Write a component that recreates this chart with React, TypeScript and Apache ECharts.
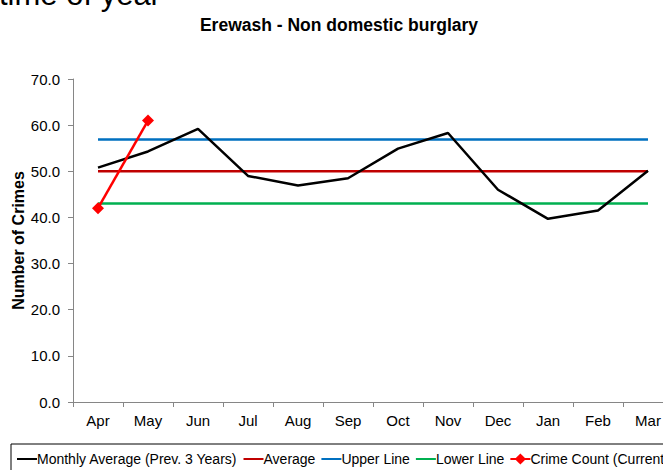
import React, { useEffect, useRef } from "react";
import * as echarts from "echarts";

const months = ["Apr", "May", "Jun", "Jul", "Aug", "Sep", "Oct", "Nov", "Dec", "Jan", "Feb", "Mar"];
const monthlyAverage = [50.8, 54.3, 59.2, 49.0, 46.9, 48.5, 54.9, 58.3, 46.0, 39.7, 41.5, 50.1];
const averageLine = [50.0, 50.0, 50.0, 50.0, 50.0, 50.0, 50.0, 50.0, 50.0, 50.0, 50.0, 50.0];
const upperLine = [56.9, 56.9, 56.9, 56.9, 56.9, 56.9, 56.9, 56.9, 56.9, 56.9, 56.9, 56.9];
const lowerLine = [43.0, 43.0, 43.0, 43.0, 43.0, 43.0, 43.0, 43.0, 43.0, 43.0, 43.0, 43.0];
const crimeCount: (number | null)[] = [42.0, 61.0, null, null, null, null, null, null, null, null, null, null];

const FONT = "'Liberation Sans', Arial, sans-serif";
const noMarker = { opacity: 0, color: "rgba(0,0,0,0)", borderWidth: 0 };

export default function App() {
  const ref = useRef<HTMLDivElement>(null);
  useEffect(() => {
    if (!ref.current) return;
    const chart = echarts.init(ref.current, undefined, { renderer: "svg" });
    chart.setOption({
      animation: false,
      backgroundColor: "#ffffff",
      textStyle: { fontFamily: FONT },
      title: {
        text: "Erewash - Non domestic burglary",
        left: 334,
        textAlign: "center",
        top: 11,
        textStyle: { fontFamily: FONT, fontSize: 17.5, fontWeight: "bold", color: "#000" },
      },
      graphic: [
        {
          type: "text",
          x: -1,
          y: -6,
          style: {
            text: "time of year",
            fontSize: 31,
            fontFamily: FONT,
            fill: "#000",
            align: "left",
            verticalAlign: "middle",
          },
        },
      ],
      grid: { left: 73, top: 79, width: 600, height: 323, outerBoundsMode: "none", containLabel: false },
      legend: {
        left: 11,
        top: 444,
        orient: "horizontal",
        borderColor: "#000",
        borderWidth: 1,
        padding: [8, 5, 8, 5],
        itemWidth: 20,
        itemHeight: 14,
        itemGap: 5,
        textStyle: { fontFamily: FONT, fontSize: 14, color: "#000", padding: [0, 0, 0, -5] },
        data: [
          { name: "Monthly Average (Prev. 3 Years)", itemStyle: noMarker },
          { name: "Average", itemStyle: noMarker },
          { name: "Upper Line", itemStyle: noMarker },
          { name: "Lower Line", itemStyle: noMarker },
          { name: "Crime Count (Current Year)" },
        ],
      },
      xAxis: {
        type: "category",
        data: months,
        boundaryGap: true,
        axisLine: { lineStyle: { color: "#868686", width: 1 } },
        axisTick: { show: true, length: 5, alignWithLabel: false, lineStyle: { color: "#868686" } },
        axisLabel: { fontFamily: FONT, fontSize: 15, color: "#000", margin: 11 },
        splitLine: { show: false },
      },
      yAxis: {
        type: "value",
        min: 0,
        max: 70,
        interval: 10,
        name: "Number of Crimes",
        nameLocation: "middle",
        nameGap: 47,
        nameMoveOverlap: false,
        nameTextStyle: { fontFamily: FONT, fontSize: 16, fontWeight: "bold", color: "#000" },
        axisLine: { show: true, lineStyle: { color: "#868686", width: 1 } },
        axisTick: { show: true, length: 5, lineStyle: { color: "#868686" } },
        axisLabel: {
          fontFamily: FONT,
          fontSize: 15,
          color: "#000",
          margin: 13,
          formatter: (v: number) => v.toFixed(1),
        },
        splitLine: { show: false },
      },
      series: [
        {
          name: "Monthly Average (Prev. 3 Years)",
          type: "line",
          data: monthlyAverage,
          symbol: "none",
          lineStyle: { color: "#000000", width: 2.5 },
          itemStyle: { color: "#000000" },
          z: 5,
        },
        {
          name: "Average",
          type: "line",
          data: averageLine,
          symbol: "none",
          lineStyle: { color: "#C00000", width: 2.5 },
          itemStyle: { color: "#C00000" },
          z: 3,
        },
        {
          name: "Upper Line",
          type: "line",
          data: upperLine,
          symbol: "none",
          lineStyle: { color: "#0070C0", width: 2.5 },
          itemStyle: { color: "#0070C0" },
          z: 3,
        },
        {
          name: "Lower Line",
          type: "line",
          data: lowerLine,
          symbol: "none",
          lineStyle: { color: "#00B050", width: 2.5 },
          itemStyle: { color: "#00B050" },
          z: 3,
        },
        {
          name: "Crime Count (Current Year)",
          type: "line",
          data: crimeCount,
          symbol: "diamond",
          symbolSize: 12,
          showSymbol: true,
          lineStyle: { color: "#FF0000", width: 2.5 },
          itemStyle: { color: "#FF0000" },
          z: 6,
        },
      ],
    });
    return () => chart.dispose();
  }, []);
  return (
    <div
      style={{
        position: "fixed",
        left: 0,
        top: 0,
        width: 663,
        height: 470,
        overflow: "hidden",
        background: "#fff",
      }}
    >
      <div ref={ref} style={{ width: 760, height: 470 }} />
    </div>
  );
}
